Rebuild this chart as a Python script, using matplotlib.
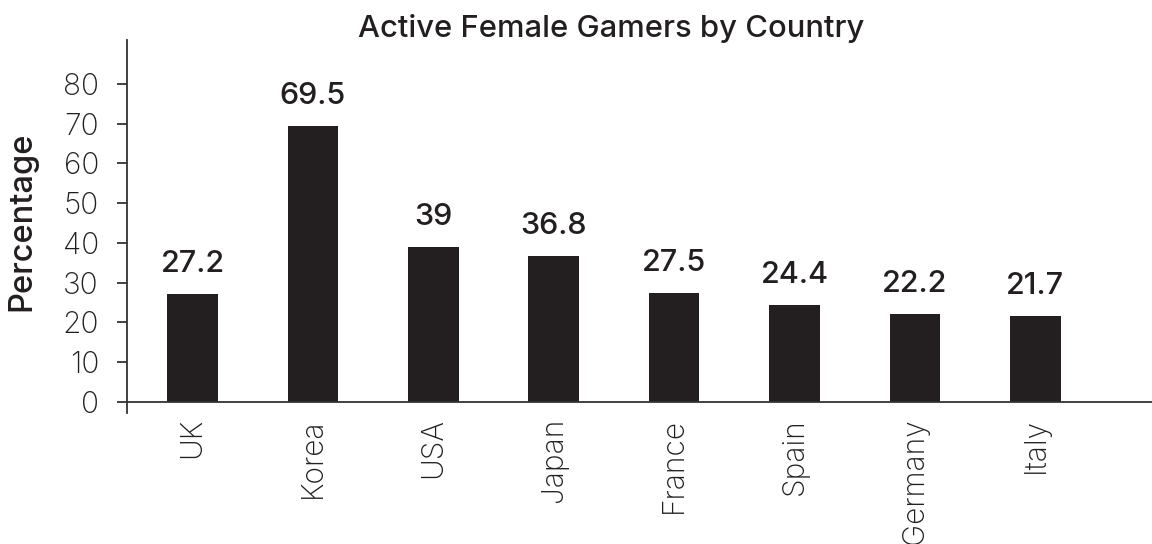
import matplotlib.pyplot as plt

# Datos: porcentaje de jugadoras activas por país
paises = ["UK", "Korea", "USA", "Japan", "France", "Spain", "Germany", "Italy"]
porcentajes = [27.2, 69.5, 39, 36.8, 27.5, 24.4, 22.2, 21.7]
etiquetas = ["27.2", "69.5", "39", "36.8", "27.5", "24.4", "22.2", "21.7"]
marcas_y = [0, 10, 20, 30, 40, 50, 60, 70, 80]

negro = "#231f20"
plt.rcParams["font.family"] = ["Inter", "DejaVu Sans"]
plt.rcParams["text.color"] = negro

fig = plt.figure(figsize=(11.52, 5.44), dpi=100)
ax = fig.add_axes([127 / 1152, 131 / 544, 1 - 127 / 1152, 373 / 544])

posiciones = range(len(paises))
ax.bar(posiciones, porcentajes, width=0.42, color=negro)

# Valor encima de cada barra
for x, v, texto in zip(posiciones, porcentajes, etiquetas):
    ax.annotate(texto, (x, v), xytext=(0, 15.5), textcoords="offset points",
                ha="center", va="baseline", fontsize=22, fontweight="medium",
                color=negro)

ax.set_xlim(-0.544, 7.968)
ax.set_ylim(-2.76, 91)

# Ejes: solo la línea izquierda y la línea del cero
for lado in ["top", "right", "bottom"]:
    ax.spines[lado].set_visible(False)
ax.spines["left"].set_color("#333333")
ax.spines["left"].set_linewidth(1.3)
ax.axhline(0, color="#333333", linewidth=1.3)

ax.set_yticks(marcas_y)
ax.set_yticklabels([str(m) for m in marcas_y])
ax.tick_params(axis="y", direction="out", length=7.2, width=1.3,
               color="#333333", pad=13, labelsize=21.5, labelcolor=negro)
for t in ax.get_yticklabels():
    t.set_fontweight("light")

ax.set_xticks(list(posiciones))
ax.set_xticklabels(paises, rotation=90, va="top", ha="center")
ax.tick_params(axis="x", length=0, pad=3.6, labelsize=21.5, labelcolor=negro)
for t in ax.get_xticklabels():
    t.set_fontweight("light")

fig.text(611 / 1152, (544 - 37) / 544, "Active Female Gamers by Country",
         ha="center", va="baseline", fontsize=22.3, fontweight="medium", color=negro)
fig.text(22 / 1152, (544 - 221) / 544, "Percentage", rotation=90,
         ha="center", va="center", fontsize=23.5, fontweight="medium", color=negro)

plt.savefig("out.png", dpi=100)
